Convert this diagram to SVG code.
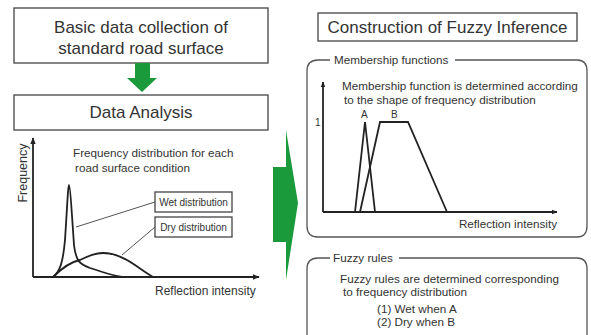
<svg xmlns="http://www.w3.org/2000/svg" width="591" height="335" viewBox="0 0 591 335">
<defs>
<style>
text{font-family:"Liberation Sans",Arial,sans-serif;fill:#333}
.big{font-size:17px}
.mid{font-size:11.7px}
.sm{font-size:10px}
.box{fill:#fff;stroke:#444;stroke-width:1.3}
.ln{fill:none;stroke:#222;stroke-width:1.8}
.thin{fill:none;stroke:#555;stroke-width:1}
.panel{fill:none;stroke:#555;stroke-width:1.3}
.green{fill:#1a9a3a}
</style>
<marker id="ah" viewBox="0 0 10 10" refX="9" refY="5" markerWidth="7" markerHeight="7" orient="auto-start-reverse" markerUnits="userSpaceOnUse">
<path d="M0,1 L10,5 L0,9 z" fill="#222"/>
</marker>
<marker id="ahs" viewBox="0 0 10 10" refX="9" refY="5" markerWidth="6" markerHeight="6" orient="auto-start-reverse" markerUnits="userSpaceOnUse">
<path d="M0,1 L10,5 L0,9 z" fill="#222"/>
</marker>
</defs>
<rect width="591" height="335" fill="#fff"/>

<g id="basic-data">
<rect class="box" x="14" y="8" width="254" height="55"/>
<text class="big" x="141" y="33" text-anchor="middle">Basic data collection of</text>
<text class="big" x="141" y="54" text-anchor="middle">standard road surface</text>
</g>

<g id="data-analysis">
<rect class="box" x="14" y="95" width="254" height="35"/>
<text class="big" x="141" y="118" text-anchor="middle">Data Analysis</text>
</g>

<g id="connectors">
<path class="green" d="M135,63 H150 V78 H157 L142,92 L127,78 H135 Z"/>
<path class="green" d="M273,167 H286 V130 L298,203 L286,280 V242 H273 Z"/>
</g>

<g id="frequency-chart">
<line class="ln" x1="33" y1="277" x2="33" y2="138" marker-end="url(#ah)"/>
<line class="ln" x1="33" y1="277" x2="259" y2="277" marker-end="url(#ah)"/>
<text class="mid" style="font-size:12.5px" transform="translate(27,173) rotate(-90)" text-anchor="middle">Frequency</text>
<text class="mid" x="73" y="157">Frequency distribution for each</text>
<text class="mid" x="75" y="172">road surface condition</text>
<path class="ln" d="M53,277 C60,272 63,262 65,240 C67,210 68,185 69,185 C70,185 72,215 74,245 C76,262 80,264 90,268 C105,273 115,276 123,277"/>
<path class="ln" d="M53,277 C62,268 70,262 80,260 C88,256 95,253 103,253 C115,253 125,258 135,265 C142,270 148,274 153,277"/>
<line class="thin" x1="155" y1="202" x2="76" y2="227"/>
<line class="thin" x1="155" y1="227" x2="122" y2="255"/>
<rect class="box" x="155" y="192" width="77" height="20" stroke-width="1"/>
<text class="sm" x="193.5" y="206" text-anchor="middle">Wet distribution</text>
<rect class="box" x="155" y="217" width="77" height="20" stroke-width="1"/>
<text class="sm" x="193.5" y="231" text-anchor="middle">Dry distribution</text>
<text class="mid" style="font-size:12px" x="155" y="295">Reflection intensity</text>
</g>

<g id="fuzzy-title">
<rect class="box" x="318" y="13" width="259" height="28"/>
<text class="big" x="447.5" y="33" text-anchor="middle">Construction of Fuzzy Inference</text>
</g>

<g id="membership-functions">
<path class="panel" d="M330,60 H318 Q307,60 307,71 V226 Q307,237 318,237 H577 Q587,237 587,226 V71 Q587,60 577,60 H455"/>
<text class="mid" x="334" y="64">Membership functions</text>
<text class="mid" x="342" y="90">Membership function is determined according</text>
<text class="mid" x="344" y="104">to the shape of frequency distribution</text>
<line class="ln" x1="323" y1="212" x2="323" y2="82" marker-end="url(#ahs)" stroke-width="1.5"/>
<line class="ln" x1="323" y1="212" x2="557" y2="212" marker-end="url(#ahs)" stroke-width="1.5"/>
<text class="sm" x="315" y="126">1</text>
<text class="sm" x="361" y="118">A</text>
<text class="sm" x="391" y="118">B</text>
<polyline class="ln" points="355,212 365,122 375,212"/>
<polyline class="ln" points="360,212 380,122 408,122 447,212"/>
<text class="mid" x="557" y="228" text-anchor="end">Reflection intensity</text>
</g>

<g id="fuzzy-rules">
<path class="panel" d="M330,258 H318 Q307,258 307,269 V336 M587,336 V269 Q587,258 577,258 H399"/>
<text class="mid" x="333" y="262">Fuzzy rules</text>
<text class="mid" x="340" y="283">Fuzzy rules are determined corresponding</text>
<text class="mid" x="343" y="296">to frequency distribution</text>
<text class="mid" x="377" y="313">(1) Wet when A</text>
<text class="mid" x="377" y="326">(2) Dry when B</text>
</g>
</svg>
